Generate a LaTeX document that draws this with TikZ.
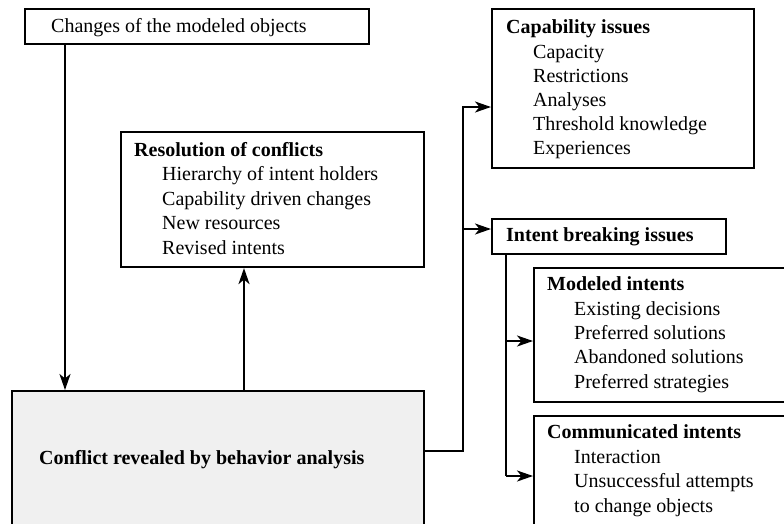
\documentclass[tikz,border=0pt]{standalone}
\usepackage{fontspec}
\setmainfont{Liberation Serif}
\usetikzlibrary{arrows.meta}
\begin{document}
\begin{tikzpicture}[x=1pt,y=-1pt,
  box/.style={draw=black, line width=2.1pt, rectangle, inner sep=0pt, anchor=north west},
  txt/.style={anchor=base west, inner sep=0pt, font=\fontsize{20}{24}\selectfont},
  btxt/.style={txt, font=\fontsize{20}{24}\selectfont\bfseries},
  conn/.style={line width=2.1pt, line join=miter},
  arr/.style={conn, -{Stealth[length=16pt,width=11pt,inset=4.5pt]}}]
\clip (0,0) rectangle (784,523);
\useasboundingbox (0,0) rectangle (784,523);
% boxes
\node[box, minimum width=344pt, minimum height=35pt] (chg) at (24,8) {};
\node[box, minimum width=303pt, minimum height=135pt] (res) at (120,131) {};
\node[box, minimum width=412pt, minimum height=160pt, fill=black!6] (conf) at (11,390) {};
\node[box, minimum width=262pt, minimum height=159pt] (cap) at (491,8) {};
\node[box, minimum width=234pt, minimum height=35pt] (ib) at (491,218) {};
\node[box, minimum width=270pt, minimum height=134pt] (mod) at (533,267) {};
\node[box, minimum width=270pt, minimum height=140pt] (com) at (533,415) {};
% texts
\node[txt] (chgT) at (51,32) {Changes of the modeled objects};
\node[btxt] (resT) at (134,156) {Resolution of conflicts};
\node[txt] (res1) at (162,180.5) {Hierarchy of intent holders};
\node[txt] (res2) at (162,205) {Capability driven changes};
\node[txt] (res3) at (162,229.5) {New resources};
\node[txt] (res4) at (162,254) {Revised intents};
\node[btxt] (confT) at (39,464) {Conflict revealed by behavior analysis};
\node[btxt] (capT) at (506,33.5) {Capability issues};
\node[txt] (cap1) at (533,58) {Capacity};
\node[txt] (cap2) at (533,82) {Restrictions};
\node[txt] (cap3) at (533,106) {Analyses};
\node[txt] (cap4) at (533,130) {Threshold knowledge};
\node[txt] (cap5) at (533,154) {Experiences};
\node[btxt] (ibT) at (506,241.5) {Intent breaking issues};
\node[btxt] (modT) at (547,290.5) {Modeled intents};
\node[txt] (mod1) at (574,315) {Existing decisions};
\node[txt] (mod2) at (574,339) {Preferred solutions};
\node[txt] (mod3) at (574,363.5) {Abandoned solutions};
\node[txt] (mod4) at (574,388) {Preferred strategies};
\node[btxt] (comT) at (547,438) {Communicated intents};
\node[txt] (com1) at (574,463) {Interaction};
\node[txt] (com2) at (574,487) {Unsuccessful attempts};
\node[txt] (com3) at (574,512) {to change objects};
% connectors
\coordinate (split) at (463,229);
\coordinate (ibsplit) at (506,476);
\draw[arr] ([xshift=41pt]chg.south west) -- ([xshift=41pt]chg.south west |- conf.north);
\draw[arr] ([xshift=124pt]res.south west |- conf.north) -- ([xshift=124pt]res.south west);
\draw[arr] (conf.east |- 0,451) -| (split) |- (cap.west |- 0,107);
\draw[arr] (split) -- (ib.west |- split);
\draw[conn] (ib.south -| ibsplit) -- (ibsplit);
\draw[arr] (ibsplit |- 0,341) -- (mod.west |- 0,341);
\draw[arr] (ibsplit) -- (com.west |- ibsplit);
\end{tikzpicture}
\end{document}
